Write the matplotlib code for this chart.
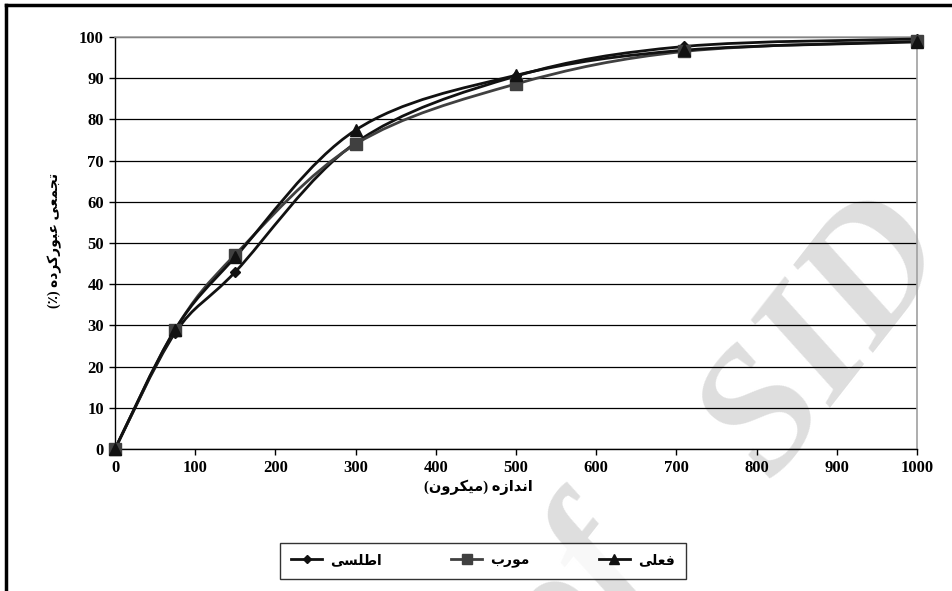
import numpy as np
import matplotlib
matplotlib.use("Agg")
import matplotlib.pyplot as plt
from matplotlib.lines import Line2D
from matplotlib.path import Path
from matplotlib.patches import PathPatch

# data
size_um = [0, 75, 150, 300, 500, 710, 1000]
atlasi = [0, 28.2, 43.0, 74.3, 90.5, 97.7, 99.5]
mourab = [0, 29.0, 47.2, 74.0, 88.6, 96.5, 99.0]
feli = [0, 29.0, 46.6, 77.4, 90.7, 96.8, 98.8]

series_names = ["اطلسی", "مورب", "فعلی"]
x_label = "اندازه (میکرون)"
y_label = "تجمعی عبورکرده (٪)"
x_ticks = list(range(0, 1001, 100))
y_ticks = list(range(0, 101, 10))

# minimal persian shaping (matplotlib has no bidi / joining)
FORMS = {
    'ا': ('\uFE8D', '\uFE8E', None, None),
    'ب': ('\uFE8F', '\uFE90', '\uFE91', '\uFE92'),
    'ت': ('\uFE95', '\uFE96', '\uFE97', '\uFE98'),
    'ج': ('\uFE9D', '\uFE9E', '\uFE9F', '\uFEA0'),
    'د': ('\uFEA9', '\uFEAA', None, None),
    'ر': ('\uFEAD', '\uFEAE', None, None),
    'ز': ('\uFEAF', '\uFEB0', None, None),
    'س': ('\uFEB1', '\uFEB2', '\uFEB3', '\uFEB4'),
    'ط': ('\uFEC1', '\uFEC2', '\uFEC3', '\uFEC4'),
    'ع': ('\uFEC9', '\uFECA', '\uFECB', '\uFECC'),
    'ف': ('\uFED1', '\uFED2', '\uFED3', '\uFED4'),
    'ل': ('\uFEDD', '\uFEDE', '\uFEDF', '\uFEE0'),
    'م': ('\uFEE1', '\uFEE2', '\uFEE3', '\uFEE4'),
    'ن': ('\uFEE5', '\uFEE6', '\uFEE7', '\uFEE8'),
    'ه': ('\uFEE9', '\uFEEA', '\uFEEB', '\uFEEC'),
    'و': ('\uFEED', '\uFEEE', None, None),
    'ی': ('\uFBFC', '\uFBFD', '\uFBFE', '\uFBFF'),
    'ک': ('\uFB8E', '\uFB8F', '\uFB90', '\uFB91'),
}


def shape(text):
    out = []
    for i, ch in enumerate(text):
        if ch not in FORMS:
            out.append(ch)
            continue
        iso, fin, ini, med = FORMS[ch]
        prev = text[i - 1] if i > 0 else ''
        nxt = text[i + 1] if i < len(text) - 1 else ''
        jp = prev in FORMS and FORMS[prev][2] is not None
        jn = ini is not None and nxt in FORMS
        if jp and jn:
            out.append(med)
        elif jp:
            out.append(fin)
        elif jn:
            out.append(ini)
        else:
            out.append(iso)
    mirror = {'(': ')', ')': '('}
    return ''.join(mirror.get(c, c) for c in reversed(out))


def smooth_path(xs, ys):
    # excel style smoothed line: bezier with catmull-rom control points
    p = np.column_stack([xs, ys]).astype(float)
    pts = np.vstack([p[0], p, p[-1]])
    verts = [p[0]]
    codes = [Path.MOVETO]
    for i in range(1, len(pts) - 2):
        c1 = pts[i] + (pts[i + 1] - pts[i - 1]) / 6.0
        c2 = pts[i + 1] - (pts[i + 2] - pts[i]) / 6.0
        verts += [c1, c2, pts[i + 1]]
        codes += [Path.CURVE4] * 3
    return Path(verts, codes)


FONT = ['Liberation Serif', 'DejaVu Sans']

fig = plt.figure(figsize=(9.52, 5.91), dpi=100)
ax = fig.add_axes([115 / 952, 1 - 449 / 591, 802 / 952, 412 / 591])
ax.patch.set_alpha(0)

styles = [
    (atlasi, '#111111', 'D', 5, '#111111'),
    (mourab, '#404040', 's', 8, '#404040'),
    (feli, '#111111', '^', 8, '#111111'),
]
handles = []
for (vals, col, mk, ms, mcol), name in zip(styles, series_names):
    ax.add_patch(PathPatch(smooth_path(size_um, vals), fill=False,
                           edgecolor=col, lw=2.0, zorder=3))
    ax.plot(size_um, vals, ls='none', marker=mk, ms=ms, color=mcol,
            zorder=4, clip_on=False)
    handles.append(Line2D([], [], color=col, lw=2.0, marker=mk, ms=ms - 1,
                          markerfacecolor=mcol, markeredgecolor=mcol))

ax.set_xlim(0, 1000)
ax.set_ylim(0, 100)
ax.set_xticks(x_ticks)
ax.set_yticks(y_ticks)
for lab in ax.get_xticklabels() + ax.get_yticklabels():
    lab.set_family(FONT)
    lab.set_fontweight('bold')
    lab.set_fontsize(12)
ax.tick_params(axis='both', direction='out', length=4, width=1, color='black', pad=4)
ax.yaxis.grid(True, color='black', lw=0.9)
ax.set_axisbelow(True)
for s in ['left', 'bottom']:
    ax.spines[s].set_color('black')
    ax.spines[s].set_linewidth(1.0)
for s in ['top', 'right']:
    ax.spines[s].set_color('#a0a0a0')
    ax.spines[s].set_linewidth(1.2)

fig.text(478 / 952, 1 - 487 / 591, shape(x_label), ha='center', va='center',
         family=FONT, fontweight='bold', fontsize=10.5)
fig.text(55 / 952, 1 - 240 / 591, shape(y_label), ha='center', va='center',
         rotation=90, family=FONT, fontweight='bold', fontsize=10)

leg = fig.legend(handles, [shape(n) for n in series_names], loc='center',
                 bbox_to_anchor=(483 / 952, 1 - 561 / 591), ncol=3,
                 frameon=True, fancybox=False, edgecolor='black',
                 columnspacing=5.0, handlelength=2.2, handletextpad=0.6,
                 borderpad=0.8, prop={'family': FONT, 'weight': 'bold', 'size': 10})
leg.get_frame().set_linewidth(1.0)

# watermark, sits behind the chart
wm = dict(rotation=52, rotation_mode='anchor', ha='center', va='center',
          family='Liberation Serif', style='italic', fontweight='bold',
          fontsize=128, color='#dedede', zorder=-1)
fig.text(828 / 952, 1 - 338 / 591, "SID", **wm)
fig.text(575 / 952, 1 - 598 / 591, "of", **wm)

# outer frame (only left and top edges fall inside the crop)
fig.add_artist(Line2D([6 / 952, 6 / 952], [0, 1 - 5 / 591], transform=fig.transFigure,
                      color='black', lw=2.5))
fig.add_artist(Line2D([6 / 952, 1], [1 - 5 / 591, 1 - 5 / 591], transform=fig.transFigure,
                      color='black', lw=2.5))

fig.savefig('out.png', dpi=100)
